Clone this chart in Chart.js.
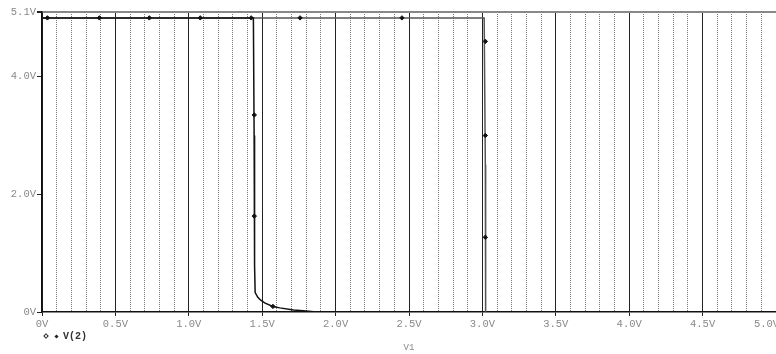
<!DOCTYPE html>
<html>
<head>
<meta charset="utf-8">
<script src="https://cdn.jsdelivr.net/npm/chart.js@4.4.1/dist/chart.umd.min.js"></script>
<style>
  body { margin: 0; background: #fff; }
  #wrap { position: relative; width: 776px; height: 354px; }
  #legend { position: absolute; left: 42px; top: 331px; font: bold 10px 'Liberation Mono', monospace; color: #333; }
  #legend .m { display: inline-block; width: 3px; height: 3px; background: #222; transform: rotate(45deg); margin: 0 5px 1px 2px; }
  #legend .o { background: #fff; border: 1px solid #222; width: 2px; height: 2px; }
</style>
</head>
<body>
<div id="wrap">
  <canvas id="chart"></canvas>
  <div id="legend"><span class="m o"></span><span class="m"></span>V(2)</div>
</div>
<script>
// falling branch near 1.45V
const fallX = [0, 1.44, 1.445, 1.448, 1.452, 1.47, 1.49, 1.52, 1.573, 1.62, 1.713, 1.78, 1.87]
const fallY = [5.0, 5.0, 3.0, 0.8, 0.33, 0.25, 0.2, 0.15, 0.095, 0.07, 0.035, 0.02, 0.0]
// branch that holds high until 3.0V
const holdX = [0, 1.758, 2.452, 3.012, 3.02, 3.022]
const holdY = [5.0, 5.0, 5.0, 5.0, 2.5, 0.0]
// marker symbols along the trace
const markX = [0.037, 0.391, 0.731, 1.078, 1.425, 1.446, 1.446, 1.573, 1.758, 2.452, 3.02, 3.02, 3.02]
const markY = [5.0, 5.0, 5.0, 5.0, 5.0, 3.35, 1.63, 0.095, 5.0, 5.0, 4.6, 3.0, 1.27]
const yTicks = [0, 2.0, 4.0, 5.1]

const pts = (xs, ys) => xs.map((x, i) => ({ x: x, y: ys[i] }))
const isHalf = (v) => Math.abs(v * 2 - Math.round(v * 2)) < 1e-6
const tickFont = { family: "'Liberation Mono', monospace", size: 10.5 }
const noPad = (s, h) => { s.height = h; s.paddingLeft = 0; s.paddingRight = 0 }
const voltLabel = (v) => v === 0 ? '0V' : (v === 5 ? '5.0V   ' : v.toFixed(1) + 'V')

const chart = new Chart(document.getElementById('chart'), {
    type: 'scatter',
    data: {
        datasets: [{
            data: pts(holdX, holdY),
            showLine: true,
            borderColor: '#555',
            borderWidth: 1.5,
            pointRadius: 0,
            order: 3
        }, {
            data: pts(fallX, fallY),
            showLine: true,
            borderColor: '#111',
            borderWidth: 1.5,
            pointRadius: 0,
            order: 2
        }, {
            data: pts(markX, markY),
            showLine: false,
            pointStyle: 'rectRot',
            pointRadius: 2.2,
            backgroundColor: '#111',
            borderColor: '#111',
            borderWidth: 1,
            order: 1
        }]
    },
    options: {
        responsive: true,
        maintainAspectRatio: false,
        animation: false,
        layout: { autoPadding: false, padding: { top: 12, right: 0, left: 0, bottom: 0 } },
        plugins: { legend: { display: false }, tooltip: { enabled: false } },
        scales: {
            x: {
                type: 'linear',
                min: 0,
                max: 5.0,
                afterFit: (s) => noPad(s, 42),
                ticks: {
                    stepSize: 0.5,
                    color: '#888',
                    font: tickFont,
                    padding: 2,
                    maxRotation: 0,
                    autoSkip: false,
                    callback: voltLabel
                },
                grid: { color: '#222', lineWidth: 1, tickLength: 4, tickColor: '#222' },
                border: { color: '#111', width: 1.5 },
                title: {
                    display: true,
                    text: 'V1',
                    color: '#888',
                    font: { family: "'Liberation Mono', monospace", size: 9 },
                    padding: { top: 0, bottom: 1 }
                }
            },
            x2: {
                type: 'linear',
                position: 'bottom',
                min: 0,
                max: 5.0,
                afterFit: (s) => noPad(s, 0),
                ticks: { display: false, stepSize: 0.1, autoSkip: false },
                grid: {
                    drawTicks: false,
                    lineWidth: 1,
                    color: (ctx) => (ctx.tick && isHalf(ctx.tick.value)) ? 'rgba(0,0,0,0)' : '#777'
                },
                border: { display: false, dash: [1, 1] }
            },
            y: {
                type: 'linear',
                min: 0,
                max: 5.1,
                afterFit: (s) => { s.width = 42; s.paddingTop = 0; s.paddingBottom = 0 },
                afterBuildTicks: (s) => { s.ticks = yTicks.map(v => ({ value: v })) },
                ticks: {
                    color: '#888',
                    font: tickFont,
                    padding: 1,
                    callback: (v) => v === 0 ? '0V' : v.toFixed(1) + 'V'
                },
                grid: {
                    tickLength: 5,
                    tickColor: '#222',
                    lineWidth: (ctx) => (ctx.tick && ctx.tick.value === 5.1) ? 2 : 1,
                    color: (ctx) => (ctx.tick && ctx.tick.value === 5.1) ? '#888' : 'rgba(0,0,0,0)'
                },
                border: { color: '#111', width: 1.5 }
            }
        }
    }
})
</script>
</body>
</html>
